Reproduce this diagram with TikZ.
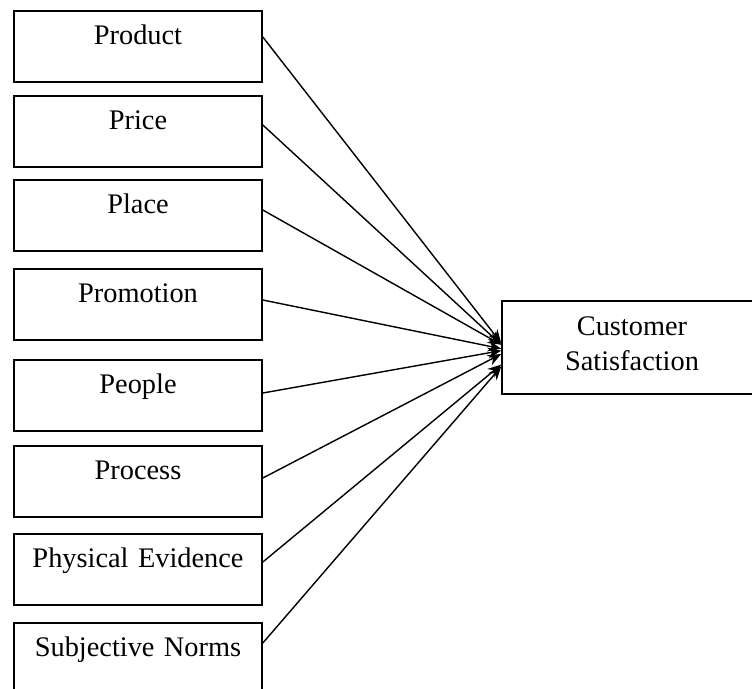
\documentclass[tikz,border=0pt]{standalone}
\usepackage{fontspec}
\setmainfont{Liberation Serif}
\usetikzlibrary{arrows.meta}
\begin{document}
\begin{tikzpicture}[x=0.03cm,y=-0.03cm,>={Stealth[length=0.4cm,width=0.33cm]},
	factor/.style={draw,line width=1.4pt,inner sep=0pt,text width=7.44cm,align=center,
		text height=1.02cm,text depth=1.11cm,anchor=north,font=\fontsize{24.2pt}{29.9pt}\selectfont},
	outcome/.style={draw,line width=1.4pt,inner sep=0pt,text width=7.8cm,align=center,
		text height=1.05cm,text depth=1.74cm,anchor=north,font=\fontsize{24.2pt}{29.9pt}\selectfont},
	link/.style={line width=1.2pt,->}]
	\useasboundingbox (0,0) rectangle (752,688);
	\node[factor] (product) at (138,10) {Product};
	\node[factor] (price) at (138,95) {Price};
	\node[factor] (place) at (138,179) {Place};
	\node[factor] (promotion) at (138,268) {Promotion};
	\node[factor] (people) at (138,359) {People};
	\node[factor] (process) at (138,445) {Process};
	\node[factor] (evidence) at (138,533) {Physical Evidence};
	\node[factor] (norms) at (138,622) {Subjective Norms};
	\node[outcome] (satisfaction) at (632,300) {Customer\\Satisfaction};
	% arrows to the outcome box
	\draw[link] ([yshift=-0.81cm]product.north east)--([yshift=0.13cm]satisfaction.west);
	\draw[link] ([yshift=-0.90cm]price.north east)--([yshift=0.08cm]satisfaction.west);
	\draw[link] ([yshift=-0.93cm]place.north east)--([yshift=0.08cm]satisfaction.west);
	\draw[link] ([yshift=-0.96cm]promotion.north east)--([yshift=-0.04cm]satisfaction.west);
	\draw[link] ([yshift=-1.02cm]people.north east)--([yshift=-0.10cm]satisfaction.west);
	\draw[link] ([yshift=-0.99cm]process.north east)--([yshift=-0.20cm]satisfaction.west);
	\draw[link] ([yshift=-0.87cm]evidence.north east)--([yshift=-0.52cm]satisfaction.west);
	\draw[link] ([yshift=-0.63cm]norms.north east)--([yshift=-0.58cm]satisfaction.west);
\end{tikzpicture}
\end{document}
